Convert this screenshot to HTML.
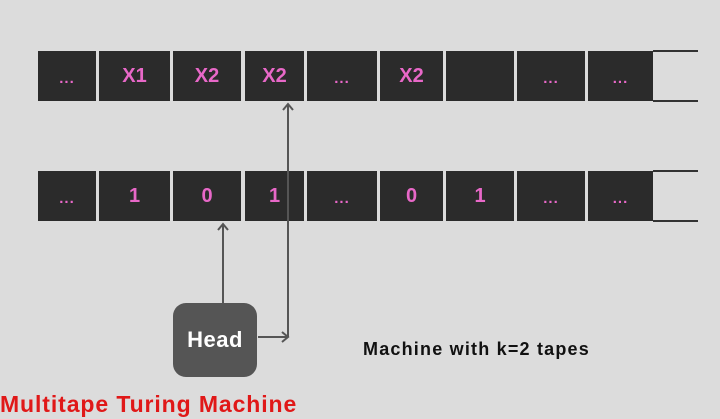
<!DOCTYPE html>
<html><head><style>
body{margin:0;width:720px;height:419px;background:#dcdcdc;position:relative;overflow:hidden;font-family:"Liberation Sans",sans-serif}
.c{position:absolute;background:#2b2b2b;color:#e868c8;font-weight:bold;font-size:20px;display:flex;align-items:center;justify-content:center;height:50px}
.d{font-size:15px;letter-spacing:1px;padding-top:4px;box-sizing:border-box}
</style></head><body>
<div class="c d" style="left:38px;top:51px;width:58px">...</div>
<div class="c" style="left:99px;top:51px;width:71px">X1</div>
<div class="c" style="left:173px;top:51px;width:68px">X2</div>
<div class="c" style="left:245px;top:51px;width:59px">X2</div>
<div class="c d" style="left:307px;top:51px;width:70px">...</div>
<div class="c" style="left:380px;top:51px;width:63px">X2</div>
<div class="c" style="left:446px;top:51px;width:68px"></div>
<div class="c d" style="left:517px;top:51px;width:68px">...</div>
<div class="c d" style="left:588px;top:51px;width:65px">...</div>

<div class="c d" style="left:38px;top:171px;width:58px">...</div>
<div class="c" style="left:99px;top:171px;width:71px">1</div>
<div class="c" style="left:173px;top:171px;width:68px">0</div>
<div class="c" style="left:245px;top:171px;width:59px">1</div>
<div class="c d" style="left:307px;top:171px;width:70px">...</div>
<div class="c" style="left:380px;top:171px;width:63px">0</div>
<div class="c" style="left:446px;top:171px;width:68px">1</div>
<div class="c d" style="left:517px;top:171px;width:68px">...</div>
<div class="c d" style="left:588px;top:171px;width:65px">...</div>

<svg width="720" height="419" style="position:absolute;left:0;top:0;z-index:2">
<g stroke="#333" stroke-width="2">
<line x1="653" y1="51" x2="698" y2="51"/><line x1="653" y1="101" x2="698" y2="101"/>
<line x1="653" y1="171" x2="698" y2="171"/><line x1="653" y1="221" x2="698" y2="221"/>
</g>
<g stroke="#555" stroke-width="2" fill="none">
<line x1="223" y1="303" x2="223" y2="224"/><polyline points="218,230 223,224 228,230"/>
<line x1="288" y1="337" x2="288" y2="104"/><polyline points="283,110 288,104 293,110"/>
<line x1="258" y1="337" x2="288" y2="337"/><polyline points="282,332 288,337 282,342"/>
</g>
</svg>

<div style="position:absolute;left:173px;top:303px;width:84px;height:74px;background:#555;border-radius:13px;color:#fff;font-weight:bold;font-size:22px;letter-spacing:0.5px;display:flex;align-items:center;justify-content:center;z-index:3">Head</div>
<div style="position:absolute;left:363px;top:339px;font-weight:bold;font-size:18px;letter-spacing:1.2px;color:#111">Machine with k=2 tapes</div>
<div style="position:absolute;left:0px;top:391px;font-weight:bold;font-size:23px;letter-spacing:0.9px;color:#e01818">Multitape Turing Machine</div>
</body></html>
